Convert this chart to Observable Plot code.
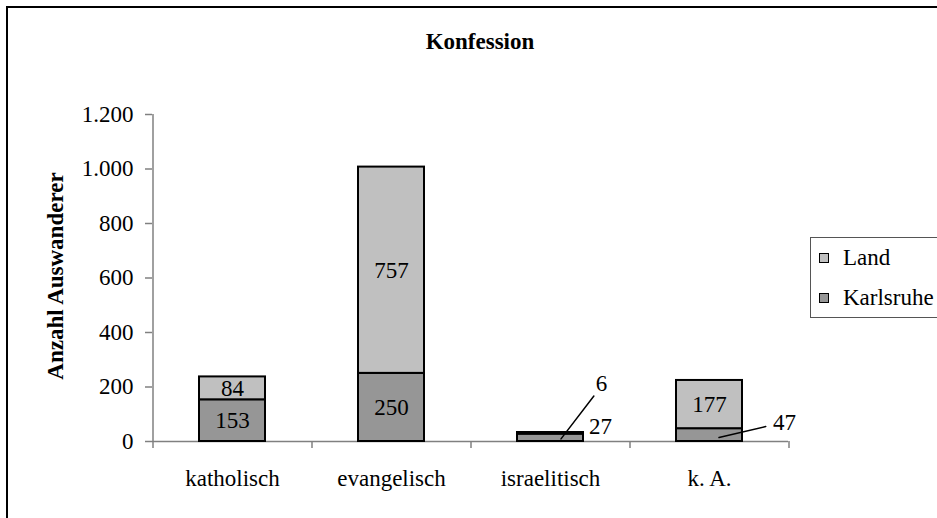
<!DOCTYPE html>
<html>
<head>
<meta charset="utf-8">
<script src="https://cdn.jsdelivr.net/npm/d3@7"></script>
<script src="https://cdn.jsdelivr.net/npm/@observablehq/plot@0.6"></script>
<style>
  html, body { margin: 0; padding: 0; background: #fff; }
  #wrap { position: relative; width: 937px; height: 518px; overflow: hidden; font-family: "Liberation Serif", "Times New Roman", serif; }
  #border { position: absolute; left: 6px; top: 6px; width: 2000px; height: 2000px; border-left: 2px solid #000; border-top: 2px solid #000; }
  #title { position: absolute; left: 280px; width: 400px; top: 30px; text-align: center; font-weight: bold; font-size: 23px; line-height: 23px; }
  #chart { position: absolute; left: 0; top: 0; }
  #legend { position: absolute; left: 810px; top: 237px; width: 160px; height: 79px; border: 1px solid #555; background: #fff; }
  .item { position: absolute; left: 0; font-size: 23px; line-height: 23px; white-space: nowrap; }
  .sw { position: absolute; left: 8px; width: 8px; height: 8px; border: 1px solid #000; }
  .lab { position: absolute; left: 32px; }
</style>
</head>
<body>
<div id="wrap">
  <div id="border"></div>
  <div id="chart"></div>
  <div id="title"></div>
  <div id="legend"></div>
</div>
<script>
// ---- data ----
const title = "Konfession";
const yLabel = "Anzahl Auswanderer";
const categories = ["katholisch", "evangelisch", "israelitisch", "k. A."];
const series = ["Land", "Karlsruhe"];
const seriesColors = ["#C0C0C0", "#969696"];
const karlsruhe = [153, 250, 27, 47];
const land = [84, 757, 6, 177];
const yTicks = [0, 200, 400, 600, 800, 1000, 1200];

// ---- build table ----
const data = categories.flatMap((c, i) => [
  {cat: c, series: "Karlsruhe", value: karlsruhe[i]},
  {cat: c, series: "Land", value: land[i]}
]);

const de = d3.formatLocale({decimal: ",", thousands: ".", grouping: [3], currency: ["", " €"]});
const fmt = de.format(",d");

const W = 937, H = 518, mL = 152, mR = 149, mT = 114, mB = 77;
const step = (W - mL - mR) / categories.length;
const axisGray = "#808080";

const inside = d => d.value >= 50 ? String(d.value) : "";
const is = (c, s) => d => d.cat === c && d.series === s;
const lineShape = { draw(ctx, l) { ctx.moveTo(0, 0); ctx.lineTo(0, -l); } };

const chart = Plot.plot({
  width: W, height: H,
  marginLeft: mL, marginRight: mR, marginTop: mT, marginBottom: mB,
  style: {fontFamily: "'Liberation Serif', 'Times New Roman', serif", fontSize: "23px", color: "#000", background: "transparent", overflow: "visible"},
  x: {domain: categories, paddingInner: 0.585, paddingOuter: 0.2925, align: 0.5},
  y: {domain: [0, 1200]},
  color: {domain: series, range: seriesColors},
  marks: [
    Plot.axisY({ticks: yTicks, tickFormat: fmt, tickSize: 7, tickPadding: 12, stroke: axisGray, strokeWidth: 1.5, label: null}),
    Plot.axisX({tickSize: 0, tickPadding: 28, label: null}),
    Plot.ruleX([categories[0]], {x: d => d, dx: -step / 2, y1: 0, y2: 1200, stroke: axisGray, strokeWidth: 1.5}),
    Plot.ruleX(categories, {x: d => d, dx: -step / 2, y1: 0, y2: 0, insetBottom: -7, stroke: axisGray, strokeWidth: 1.5}),
    Plot.ruleX([categories[categories.length - 1]], {x: d => d, dx: step / 2, y1: 0, y2: 0, insetBottom: -7, stroke: axisGray, strokeWidth: 1.5}),
    Plot.ruleY([0], {stroke: axisGray, strokeWidth: 1.5}),
    Plot.barY(data, Plot.stackY({x: "cat", y: "value", fill: "series", stroke: "#000", strokeWidth: 2})),
    Plot.text(data, Plot.stackY({x: "cat", y: "value", text: inside, fill: "#000"})),
    // outside labels for small segments
    Plot.text(data, Plot.stackY({x: "cat", y: "value", text: d => is("israelitisch", "Land")(d) ? String(d.value) : "", dx: 51, dy: -50, fill: "#000"})),
    Plot.text(data, Plot.stackY({x: "cat", y: "value", text: d => is("israelitisch", "Karlsruhe")(d) ? String(d.value) : "", dx: 50, dy: -11, fill: "#000"})),
    Plot.text(data, Plot.stackY({x: "cat", y: "value", text: d => is("k. A.", "Karlsruhe")(d) ? String(d.value) : "", dx: 75, dy: -12, fill: "#000"})),
    // leader lines
    Plot.vector(data.filter(is("israelitisch", "Land")), Plot.stackY({x: "cat", y: "value", dx: 10.5, dy: -1.8, length: 54, rotate: 37.5, anchor: "start", shape: lineShape, stroke: "#000", strokeWidth: 1.5, fill: "none"})),
    Plot.vector(data.filter(is("k. A.", "Karlsruhe")), Plot.stackY({x: "cat", y: "value", dx: 9.5, dy: 2.4, length: 48, rotate: 76.8, anchor: "start", shape: lineShape, stroke: "#000", strokeWidth: 1.5, fill: "none"})),
    Plot.text([yLabel], {frameAnchor: "left", textAnchor: "middle", rotate: -90, dx: -97, dy: -2, text: d => d, fontWeight: "bold", fill: "#000"})
  ]
});
document.getElementById("chart").appendChild(chart);
document.getElementById("title").textContent = title;

// legend (HTML), built from series/colors
const legend = document.getElementById("legend");
const tops = [8, 48];
series.forEach((s, i) => {
  const item = document.createElement("div");
  item.className = "item";
  item.style.top = tops[i] + "px";
  const sw = document.createElement("div");
  sw.className = "sw";
  sw.style.top = "7px";
  sw.style.background = seriesColors[i];
  const lab = document.createElement("div");
  lab.className = "lab";
  lab.textContent = s;
  item.appendChild(sw);
  item.appendChild(lab);
  legend.appendChild(item);
});
</script>
</body>
</html>
